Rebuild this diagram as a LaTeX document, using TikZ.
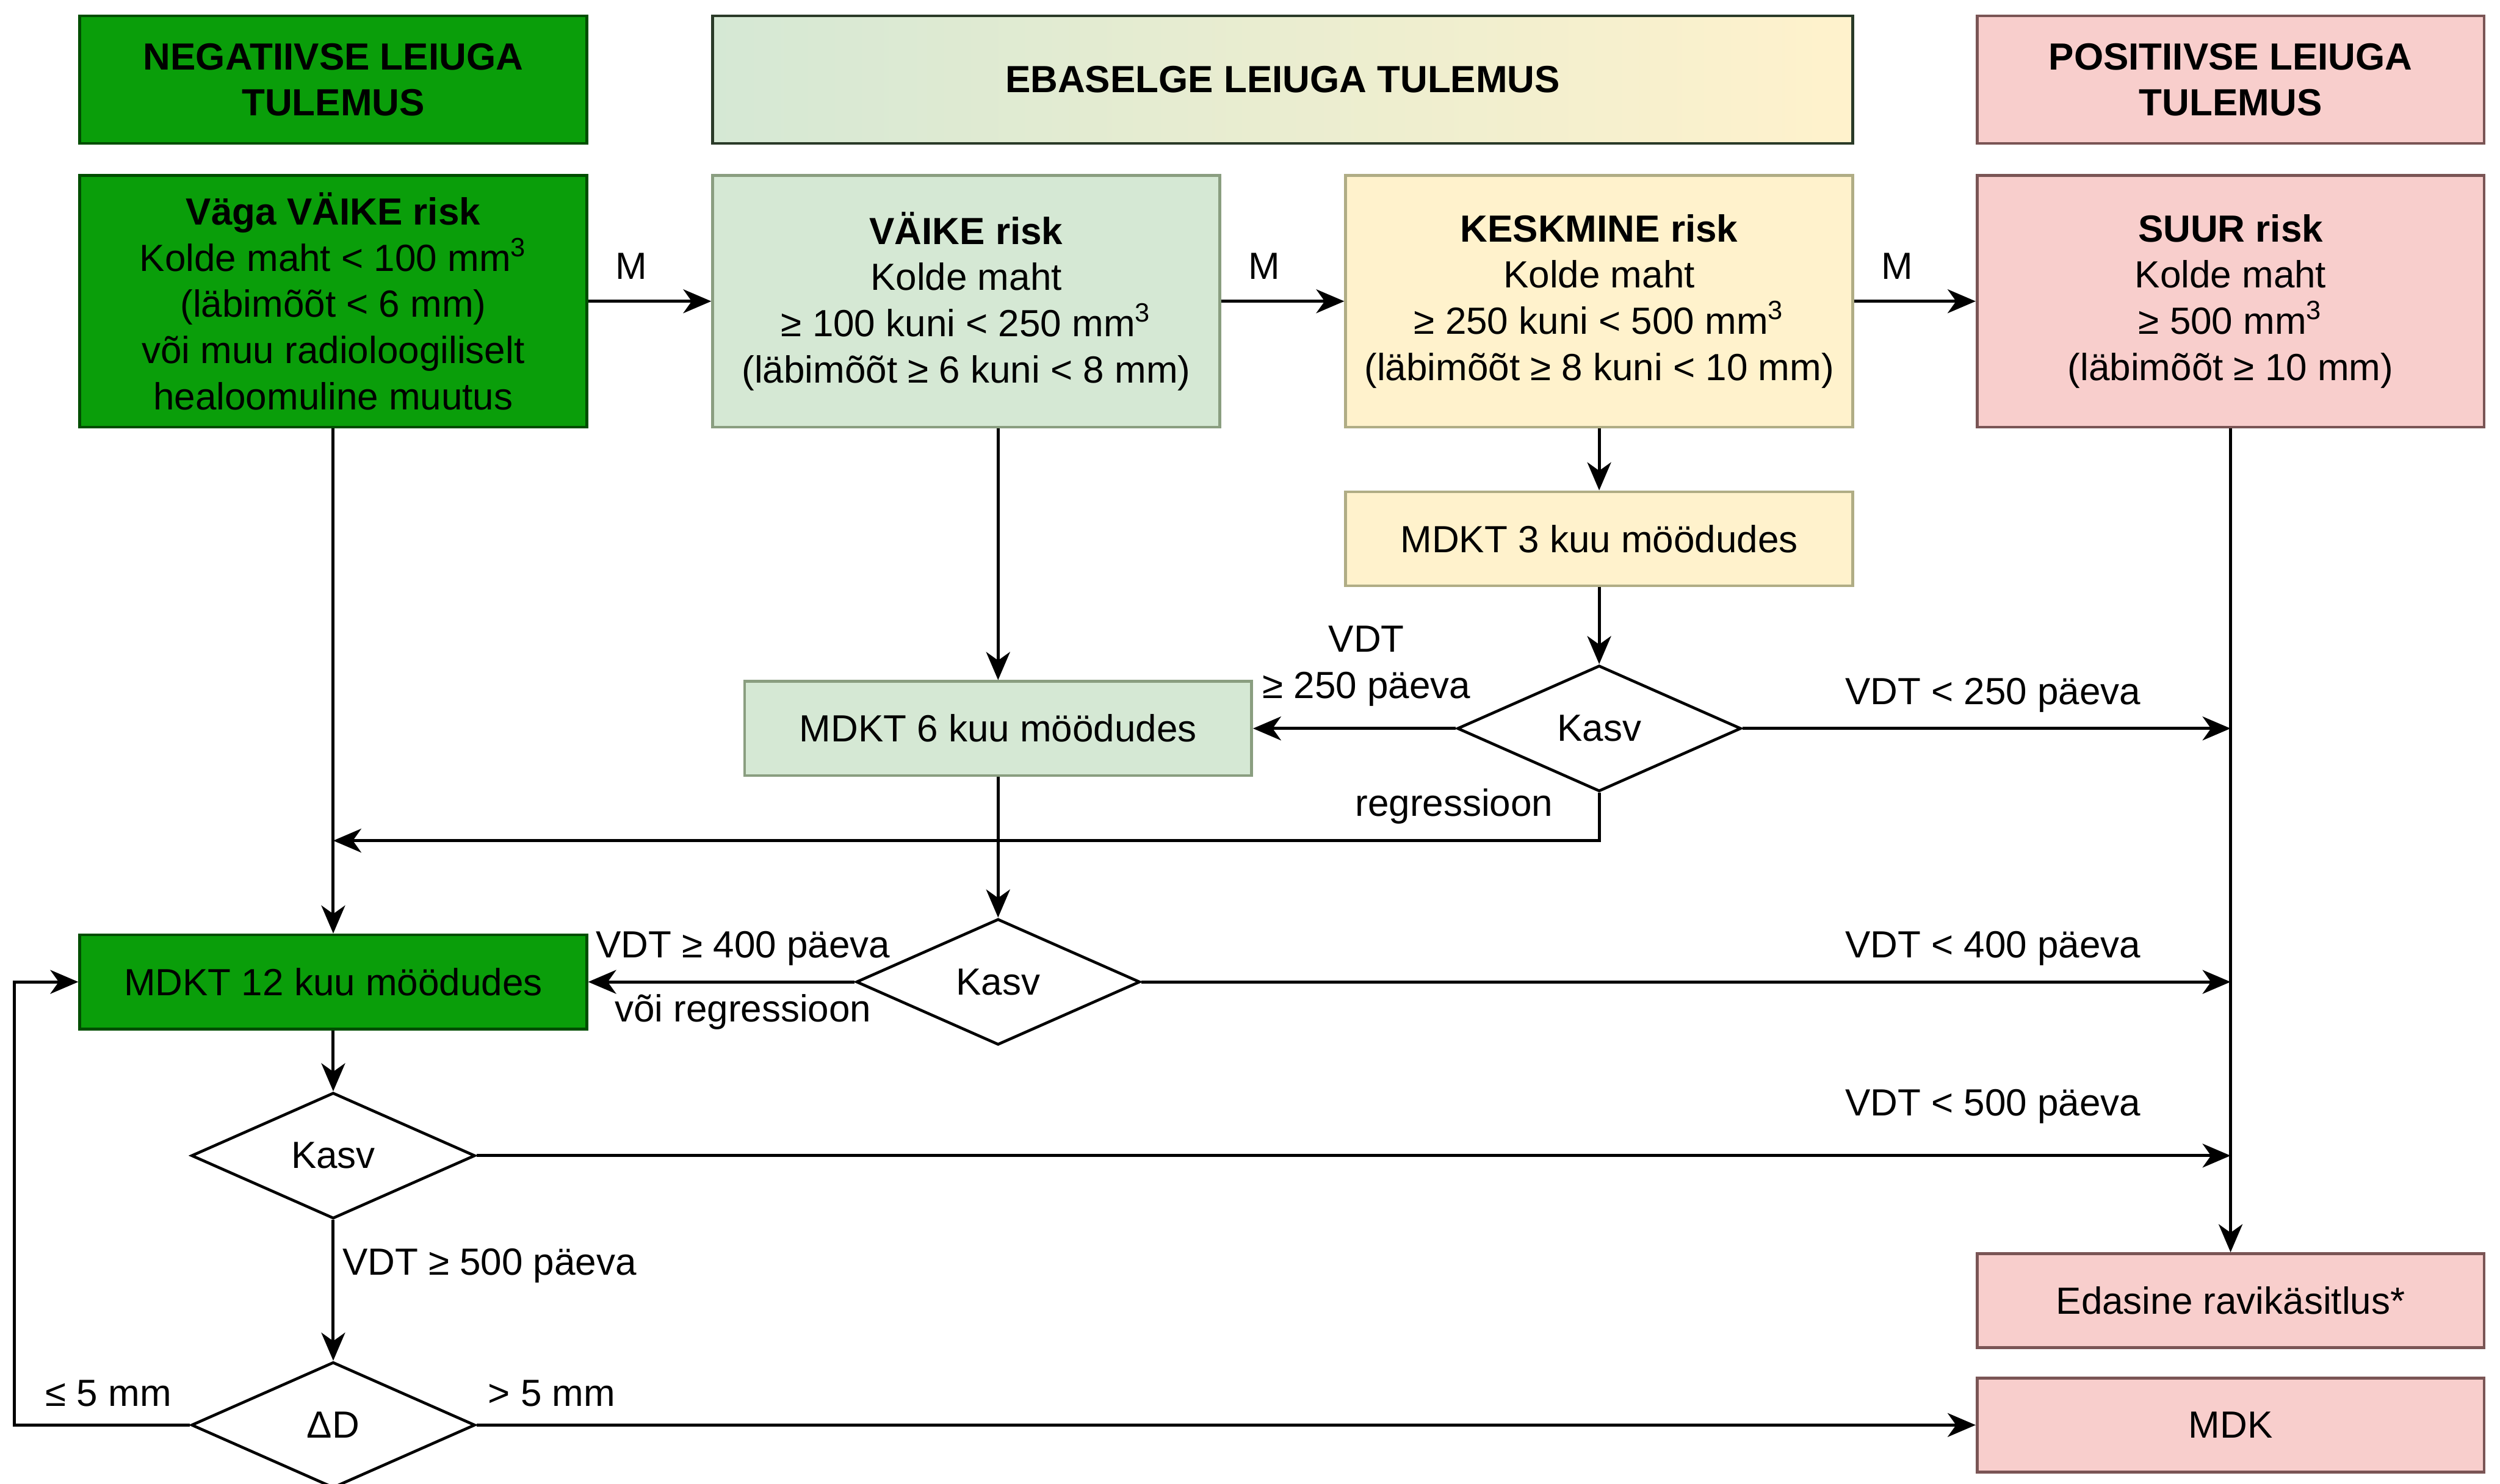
\documentclass[tikz,border=0pt]{standalone}
\usepackage{fontspec}
\setmainfont{Liberation Sans}
\usetikzlibrary{shapes.geometric,arrows.meta}
\definecolor{dgreen}{HTML}{0A9E0A}
\definecolor{dgreenb}{HTML}{004D00}
\definecolor{lgreen}{HTML}{D5E8D4}
\definecolor{lgreenb}{HTML}{8A9E80}
\definecolor{lyellow}{HTML}{FFF2CC}
\definecolor{lyellowb}{HTML}{B0AD85}
\definecolor{lpink}{HTML}{F8CECC}
\definecolor{lpinkb}{HTML}{7A5555}
\definecolor{ebborder}{HTML}{2A3A28}
\begin{document}
\begin{tikzpicture}[x=0.2mm,y=-0.2mm,>={Stealth[length=10pt,width=8.5pt,inset=3pt]},line width=1.1pt,
        font=\fontsize{13.5}{16.5}\selectfont,
        flowbox/.style={draw,rectangle,minimum width=6.36cm,minimum height=1.18cm,align=center,inner sep=2pt,line width=1pt},
        headbox/.style={flowbox,minimum height=1.6cm,font=\fontsize{13.5}{16.5}\selectfont\bfseries},
        riskbox/.style={flowbox,minimum height=3.16cm},
        decbox/.style={draw,diamond,minimum width=3.56cm,minimum height=1.58cm,inner sep=0pt,line width=1pt},
        lbl/.style={inner sep=1pt,align=center}]
    \useasboundingbox (0,0) rectangle (1568,931);
    % pealkirjad
    \node[headbox,fill=dgreen,draw=dgreenb] (negh) at (209,50) {NEGATIIVSE LEIUGA\\TULEMUS};
    \node[headbox,left color=lgreen,right color=lyellow,draw=ebborder,minimum width=14.3cm] (ebh) at (804.5,50) {EBASELGE LEIUGA TULEMUS};
    \node[headbox,fill=lpink,draw=lpinkb] (posh) at (1399,50) {POSITIIVSE LEIUGA\\TULEMUS};
    % riskiastmed
    \node[riskbox,fill=dgreen,draw=dgreenb] (vv) at (209,189) {\textbf{Väga VÄIKE risk}\\Kolde maht < 100 mm\textsuperscript{3}\\(läbimõõt < 6 mm)\\või muu radioloogiliselt\\healoomuline muutus};
    \node[riskbox,fill=lgreen,draw=lgreenb] (vaike) at (606,189) {\textbf{VÄIKE risk}\\Kolde maht\\≥ 100 kuni < 250 mm\textsuperscript{3}\\(läbimõõt ≥ 6 kuni < 8 mm)};
    \node[riskbox,fill=lyellow,draw=lyellowb] (kesk) at (1003,189) {\textbf{KESKMINE risk}\\Kolde maht\\≥ 250 kuni < 500 mm\textsuperscript{3}\\(läbimõõt ≥ 8 kuni < 10 mm)};
    \node[riskbox,fill=lpink,draw=lpinkb] (suur) at (1399,189) {\textbf{SUUR risk}\\Kolde maht\\≥ 500 mm\textsuperscript{3}\\(läbimõõt ≥ 10 mm)};
    % kontrollid ja otsused
    \node[flowbox,fill=lyellow,draw=lyellowb] (m3) at (1003,338) {MDKT 3 kuu möödudes};
    \node[decbox] (k1) at (1003,457) {Kasv};
    \node[flowbox,fill=lgreen,draw=lgreenb] (m6) at (626,457) {MDKT 6 kuu möödudes};
    \node[flowbox,fill=dgreen,draw=dgreenb] (m12) at (209,616) {MDKT 12 kuu möödudes};
    \node[decbox] (k2) at (626,616) {Kasv};
    \node[decbox] (k3) at (209,725) {Kasv};
    \node[decbox] (dd) at (209,894) {ΔD};
    \node[flowbox,fill=lpink,draw=lpinkb] (edas) at (1399,816) {Edasine ravikäsitlus*};
    \node[flowbox,fill=lpink,draw=lpinkb] (mdk) at (1399,894) {MDK};
    % nooled
    \draw[->] (vv) -- (vaike);
    \draw[->] (vaike) -- (kesk);
    \draw[->] (kesk) -- (suur);
    \draw[->] (kesk) -- (m3);
    \draw[->] (m3) -- (k1);
    \draw[->] (vaike.south -| m6.north) -- (m6.north);
    \draw[->] (k1) -- (m6);
    \draw[->] (k1) -- (k1 -| suur);
    \draw[->] (suur) -- (edas);
    \draw[->] (k1.south) -- ++(0,30) coordinate (rg) -- (rg -| vv);
    \draw[->] (vv) -- (m12);
    \draw[->] (m6) -- (k2);
    \draw[->] (k2) -- (m12);
    \draw[->] (k2) -- (k2 -| suur);
    \draw[->] (m12) -- (k3);
    \draw[->] (k3) -- (k3 -| suur);
    \draw[->] (k3) -- (dd);
    \draw[->] (dd) -- (mdk);
    \draw[->] (dd.west) -- ++(-110,0) |- (m12);
    % siltid
    \node[lbl] (lm1) at (396,167) {M};
    \node[lbl] (lm2) at (793,167) {M};
    \node[lbl] (lm3) at (1190,167) {M};
    \node[lbl] (l250a) at (857,418) {VDT\\≥ 250 päeva};
    \node[lbl] (l250b) at (1250,436) {VDT < 250 päeva};
    \node[lbl] (lreg) at (912,506) {regressioon};
    \node[lbl] (l400a) at (466,595) {VDT ≥ 400 päeva};
    \node[lbl] (l400b) at (466,635) {või regressioon};
    \node[lbl] (l400c) at (1250,595) {VDT < 400 päeva};
    \node[lbl] (l500a) at (1250,694) {VDT < 500 päeva};
    \node[lbl] (l500b) at (307,794) {VDT ≥ 500 päeva};
    \node[lbl] (l5a) at (68,874) {≤ 5 mm};
    \node[lbl] (l5b) at (346,874) {> 5 mm};
\end{tikzpicture}
\end{document}
